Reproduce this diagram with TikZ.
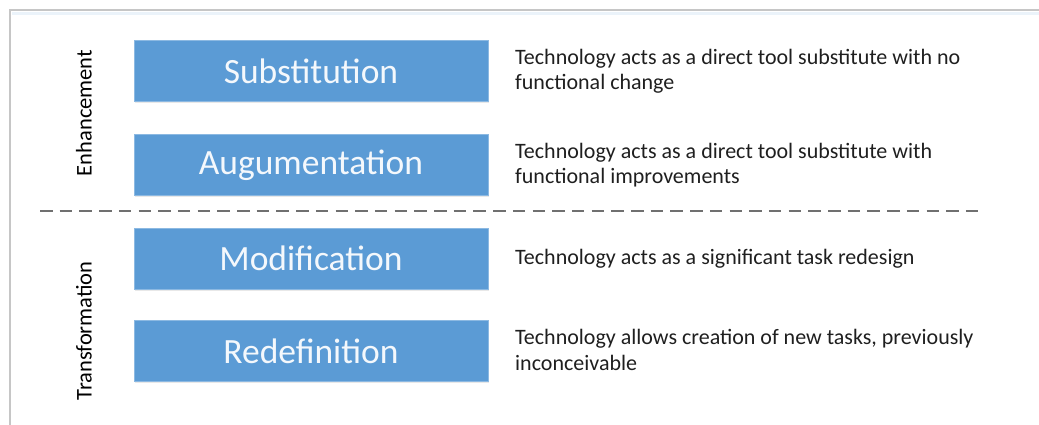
\documentclass[tikz,border=0pt]{standalone}
\usepackage{fontspec}
\setmainfont{Carlito}
\usepackage{tikz}
\usetikzlibrary{shadows}

\definecolor{samrblue}{HTML}{5B9BD5}
\definecolor{samrtext}{HTML}{F4F8FC}
\definecolor{framegray}{HTML}{C6C6C6}
\definecolor{dashgray}{HTML}{707070}

\begin{document}
\begin{tikzpicture}[x=1pt,y=-1pt]
      \tikzstyle{level}=[draw=samrblue!70!white,line width=1pt,fill=samrblue,text=samrtext,minimum width=354pt,minimum height=61pt,inner sep=0pt,font=\fontsize{35.5}{40}\selectfont,drop shadow={opacity=0.18,shadow xshift=1pt,shadow yshift=-1.5pt}]
      \tikzstyle{desc}=[anchor=west,align=left,inner sep=0pt,text=black!88,font=\fontsize{22}{25.5}\selectfont]
      \tikzstyle{side}=[rotate=90,inner sep=0pt,font=\fontsize{22.5}{25}\selectfont]

      \useasboundingbox (0,0) rectangle (1039,425);

      % frame
      \draw[samrblue!12,line width=3pt] (12,14) -- (1039,14);
      \draw[framegray,line width=2pt] (10,425) -- (10,10) -- (1039,10);

      \node[level] (subst) at (311,71.5) {Substitution};
      \node[level] (augm) at (311,165) {Augumentation};
      \node[level] (modif) at (311,258.5) {Modification};
      \node[level] (redef) at (311,351) {Redefinition};

      \node[desc] (dsubst) at (515,71.5) {Technology acts as a direct tool substitute with no\\functional change};
      \node[desc] (daugm) at (515,165) {Technology acts as a direct tool substitute with\\functional improvements};
      \node[desc] (dmodif) at (515,258.5) {Technology acts as a significant task redesign};
      \node[desc] (dredef) at (515,350) {Technology allows creation of new tasks, previously\\inconceivable};

      \node[side] (enh) at (84,113) {Enhancement};
      \node[side] (trans) at (84,331) {Transformation};

      \coordinate (split west) at (40,211);
      \coordinate (split east) at (983,211);
      \draw[dashgray,line width=2.2pt,dash pattern=on 12.5pt off 7.2pt] (split west) -- (split east);
\end{tikzpicture}
\end{document}
